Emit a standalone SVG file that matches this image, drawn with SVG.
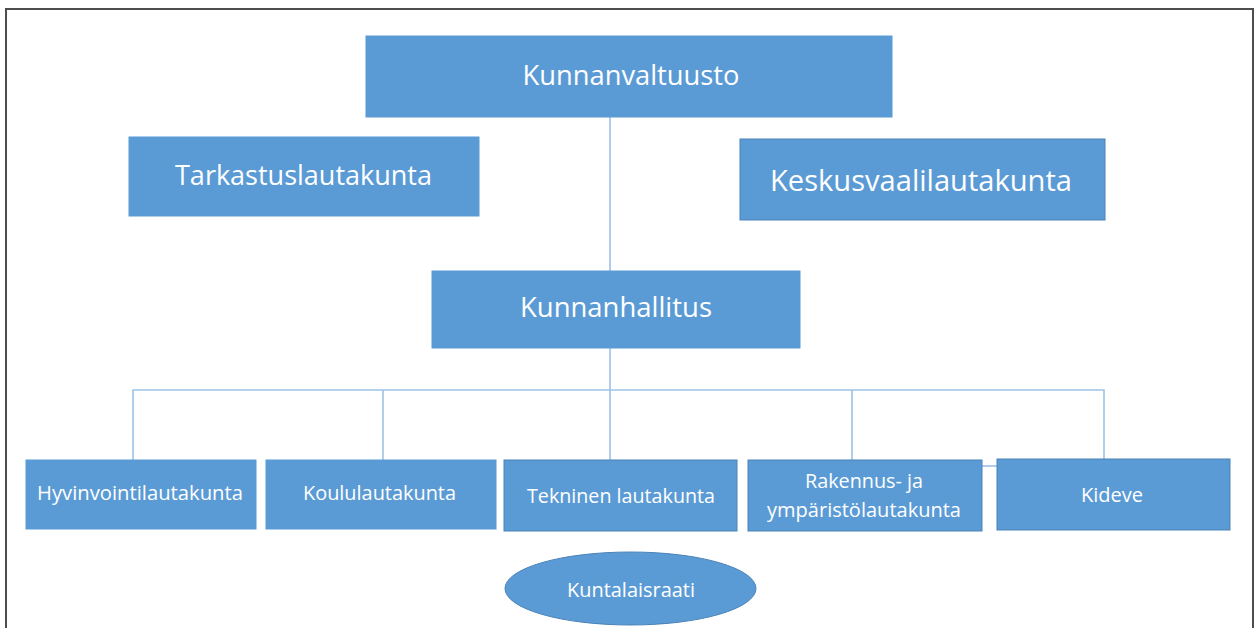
<svg xmlns="http://www.w3.org/2000/svg" width="1255" height="628" viewBox="0 0 1255 628">
<style>
.box{fill:#5b9bd5;stroke:#5b9bd5;stroke-width:1}
.bd{stroke:#4a82b8}
.t{fill:#ffffff;font-family:"Open Sans","Noto Sans","Liberation Sans",sans-serif;text-anchor:middle}
.big{font-size:28px}
.small{font-size:20px}
.c{stroke:#9cc2e8;stroke-width:1.6;fill:none}
</style>
<rect x="0" y="0" width="1255" height="628" fill="#ffffff"/>
<path d="M6,640 V9 H1253 V640" fill="none" stroke="#4d4d4d" stroke-width="2"/>
<g id="connectors">
<line class="c" x1="610" y1="117" x2="610" y2="271"/>
<line class="c" x1="610" y1="348" x2="610" y2="460"/>
<polyline class="c" points="133,460 133,390 1104,390 1104,459"/>
<line class="c" x1="383" y1="390" x2="383" y2="460"/>
<line class="c" x1="852" y1="390" x2="852" y2="460"/>
<line class="c" x1="982" y1="466" x2="997" y2="466"/>
</g>
<g id="kunnanvaltuusto">
<rect class="box" x="366" y="36" width="526" height="81"/>
<text class="t big" x="631" y="85" textLength="217" lengthAdjust="spacingAndGlyphs">Kunnanvaltuusto</text>
</g>
<g id="tarkastuslautakunta">
<rect class="box" x="129" y="137" width="350" height="79"/>
<text class="t big" x="303.5" y="185" textLength="257" lengthAdjust="spacingAndGlyphs">Tarkastuslautakunta</text>
</g>
<g id="keskusvaalilautakunta">
<rect class="box bd" x="740" y="139" width="365" height="81"/>
<text class="t big" x="921" y="191" textLength="302" lengthAdjust="spacingAndGlyphs" style="font-size:29px">Keskusvaalilautakunta</text>
</g>
<g id="kunnanhallitus">
<rect class="box" x="432" y="271" width="368" height="77"/>
<text class="t big" x="616" y="317" textLength="192" lengthAdjust="spacingAndGlyphs">Kunnanhallitus</text>
</g>
<g id="hyvinvointilautakunta">
<rect class="box" x="26" y="460" width="230" height="69"/>
<text class="t small" x="140" y="500" textLength="206" lengthAdjust="spacingAndGlyphs">Hyvinvointilautakunta</text>
</g>
<g id="koululautakunta">
<rect class="box" x="266" y="460" width="230" height="69"/>
<text class="t small" x="379.5" y="500" textLength="153" lengthAdjust="spacingAndGlyphs">Koululautakunta</text>
</g>
<g id="tekninen">
<rect class="box bd" x="504" y="460" width="233" height="71"/>
<text class="t small" x="621" y="503" textLength="188" lengthAdjust="spacingAndGlyphs">Tekninen lautakunta</text>
</g>
<g id="rakennus">
<rect class="box bd" x="748" y="460" width="234" height="71"/>
<text class="t small" x="864" y="488" textLength="118" lengthAdjust="spacingAndGlyphs">Rakennus- ja</text>
<text class="t small" x="864" y="517" textLength="194" lengthAdjust="spacingAndGlyphs">ympäristölautakunta</text>
</g>
<g id="kideve">
<rect class="box bd" x="997" y="459" width="233" height="71"/>
<text class="t small" x="1112" y="502" textLength="62" lengthAdjust="spacingAndGlyphs">Kideve</text>
</g>
<g id="kuntalaisraati">
<ellipse class="box bd" cx="630.5" cy="588.5" rx="125.5" ry="36.5"/>
<text class="t small" x="631" y="597" textLength="128" lengthAdjust="spacingAndGlyphs">Kuntalaisraati</text>
</g>
</svg>
